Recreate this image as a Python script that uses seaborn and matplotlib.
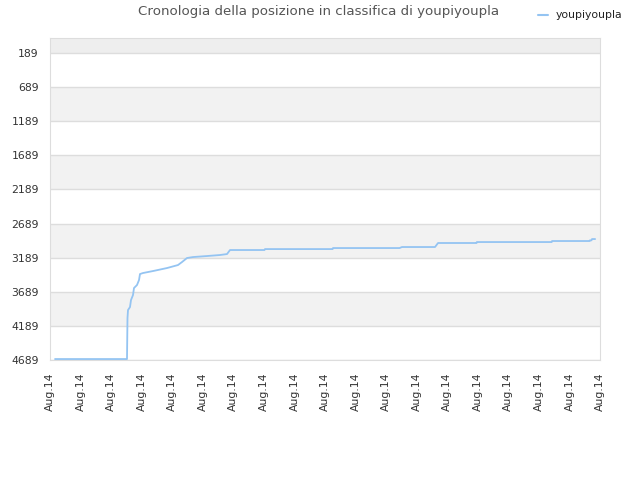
import matplotlib
matplotlib.use("Agg")
import matplotlib.pyplot as plt
import seaborn as sns
import pandas as pd

title = "Cronologia della posizione in classifica di youpiyoupla"
series_name = "youpiyoupla"
x_pos = [0.164, 2.487, 2.52, 2.536, 2.553, 2.618, 2.651, 2.716, 2.749, 2.847, 2.913,
         2.945, 3.044, 3.371, 3.829, 4.189, 4.32, 4.484, 4.68, 5.138, 5.564, 5.793,
         5.891, 7.02, 7.036, 9.25, 9.262, 11.44, 11.52, 12.6, 12.7, 13.96, 13.97,
         16.42, 16.43, 17.66, 17.67, 17.72, 17.74, 17.84]
rank = [4675, 4675, 4675, 4074, 3957, 3913, 3810, 3737, 3634, 3590, 3517,
        3429, 3414, 3385, 3341, 3297, 3253, 3194, 3180, 3165, 3150, 3136,
        3077, 3077, 3063, 3063, 3048, 3048, 3033, 3033, 2974, 2974, 2960,
        2960, 2945, 2945, 2935, 2935, 2916, 2916]
y_ticks = [189, 689, 1189, 1689, 2189, 2689, 3189, 3689, 4189, 4689]
x_ticks = list(range(19))
x_labels = ["Aug.14"] * 19

sns.set_style("white")
plt.rcParams['font.family'] = ['DejaVu Sans']

df = pd.DataFrame({"x": x_pos, "rank": rank, "serie": series_name})

fig = plt.figure(figsize=(6.4, 4.8), dpi=100)
ax = fig.add_axes([50/640, 1-360/480, 550/640, 322/480])

ymin = -31
ax.axhspan(ymin, y_ticks[0], color="#eeeeee", zorder=0, lw=0)
for i in range(len(y_ticks) - 1):
    c = "#ffffff" if i % 2 == 0 else "#f2f2f2"
    ax.axhspan(y_ticks[i], y_ticks[i+1], color=c, zorder=0, lw=0)
for t in y_ticks:
    ax.axhline(t, color="#dddddd", lw=1, zorder=1)

sns.lineplot(data=df, x="x", y="rank", ax=ax, color="#94c4f2", lw=1.3,
             estimator=None, sort=False, legend=False, zorder=3)

ax.set_ylim(4689, ymin)
ax.set_xlim(0, 18)
ax.set_yticks(y_ticks)
ax.set_yticklabels([str(t) for t in y_ticks])
ax.set_xticks(x_ticks)
ax.set_xticklabels(x_labels, rotation=90)
ax.tick_params(axis="y", labelsize=7.8, colors="#333333", length=0, pad=8)
ax.tick_params(axis="x", labelsize=7.8, colors="#333333", length=0, pad=9)
ax.set_xlabel("")
ax.set_ylabel("")
for s in ["left", "top", "right", "bottom"]:
    ax.spines[s].set_color("#dddddd")

fig.text(319/640, 1-12/480, title, ha="center", va="center", fontsize=9.6, color="#555555")
fig.lines.append(plt.Line2D([538/640, 548/640], [1-15/480, 1-15/480], transform=fig.transFigure,
                            color="#94c4f2", lw=1.5))
fig.text(556/640, 1-15/480, series_name, ha="left", va="center", fontsize=7.8, color="#222222")

fig.savefig("out.png", dpi=100)
